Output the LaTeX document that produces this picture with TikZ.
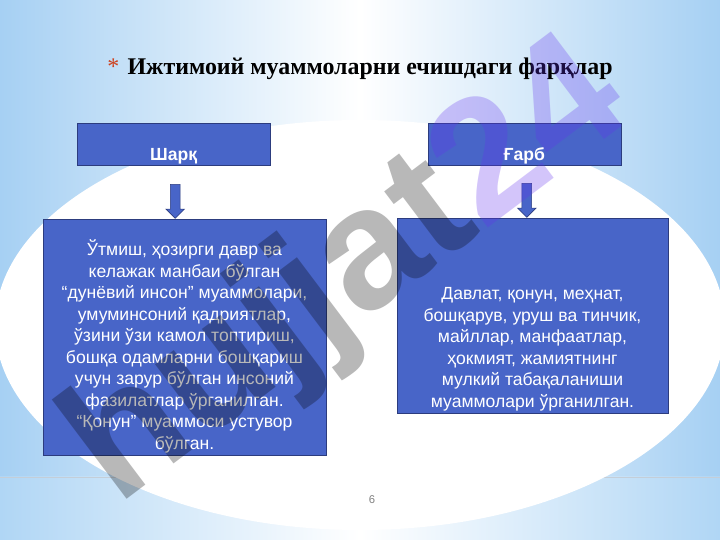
\documentclass[tikz,border=0pt]{standalone}
\usepackage{fontspec}
\setmainfont{Liberation Serif}
\setsansfont{Liberation Sans}
\usepackage{tikz}
\usetikzlibrary{positioning,shapes.arrows,calc}

\definecolor{slideblue}{RGB}{166,208,243}
\definecolor{bandblue}{RGB}{176,214,245}
\definecolor{rulegray}{RGB}{196,206,216}
\definecolor{boxblue}{RGB}{72,101,200}
\definecolor{boxedge}{RGB}{44,60,126}
\definecolor{starred}{RGB}{205,65,30}
\definecolor{markviolet}{RGB}{100,50,238}

\begin{document}
\begin{tikzpicture}[
  headbox/.style={draw=boxedge,fill=boxblue,minimum width=4.825cm,minimum height=1.05cm,inner sep=0pt,text height=0.95cm,text depth=0.1cm,text=white,font=\sffamily\bfseries\fontsize{12.5}{14}\selectfont},
  infobox/.style={draw=boxedge,fill=boxblue},
  infotext/.style={anchor=south,inner sep=1.5pt,align=center,text=white,font=\sffamily\fontsize{12.5}{15.3}\selectfont},
  downarrow/.style={single arrow,draw=boxedge,fill=boxblue,rotate=-90,anchor=tip,minimum height=0.85cm,minimum width=0.45cm,single arrow head extend=0.11cm,inner sep=0.115cm}
]
\useasboundingbox (0,0) rectangle (18,13.5);
% slide background
\fill[left color=slideblue,right color=slideblue,middle color=white] (0,1.575) rectangle (18,13.5);
\fill[left color=bandblue,right color=bandblue,middle color=white] (0,0) rectangle (18,1.575);
\draw[rulegray] (0,1.575) -- (18,1.575);
\fill[white] (9,5.375) ellipse [x radius=9.125cm, y radius=5.125cm];

\node[anchor=base,font=\bfseries\fontsize{17}{20}\selectfont] (title) at (9,11.625) {\textcolor{starred}{\mdseries*}\hspace{0.35em}Ижтимоий муаммоларни ечишдаги фарқлар};

\node[headbox] (sharq) at (4.34,9.9) {Шарқ};
\node[headbox] (garb) at (13.11,9.9) {Ғарб};

\node[infobox,minimum width=7.075cm,minimum height=5.9cm,label={[infotext]south:{Ўтмиш, ҳозирги давр ва\\келажак манбаи бўлган\\“дунёвий инсон” муаммолари,\\умуминсоний қадриятлар,\\ўзини ўзи камол топтириш,\\бошқа одамларни бошқариш\\учун зарур бўлган инсоний\\фазилатлар ўрганилган.\\“Қонун” муаммоси устувор\\бўлган.}}] (sharqinfo) at (4.6125,5.075) {};
\node[infobox,minimum width=6.775cm,minimum height=4.875cm,label={[infotext]south:{Давлат, қонун, меҳнат,\\бошқарув, уруш ва тинчик,\\майллар, манфаатлар,\\ҳокмият, жамиятнинг\\мулкий табақаланиши\\муаммолари ўрганилган.}}] (garbinfo) at (13.3125,5.6125) {};

\node[downarrow] (sharqarrow) at ($(sharq.south |- sharqinfo.north)+(0.04,0)$) {};
\node[downarrow] (garbarrow) at ($(garb.south |- garbinfo.north)+(0.06,0)$) {};

\node[text=gray,font=\sffamily\fontsize{8}{9}\selectfont] (pagenum) at (9.3,1.0) {6};

% watermark
\node[rotate=37,opacity=0.28,text=black,font=\sffamily\bfseries\fontsize{122}{122}\selectfont] (watermark) at (8.75,6.6) {hujjat\textcolor{markviolet}{24}};
\end{tikzpicture}
\end{document}
